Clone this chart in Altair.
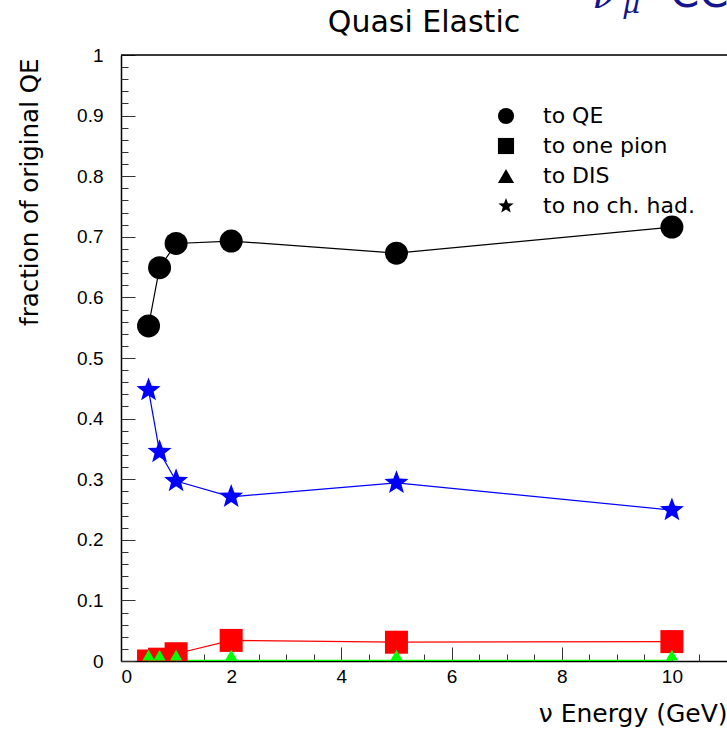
import math
import altair as alt
import pandas as pd

# ---------------- data ----------------
energy = [0.5, 0.7, 1.0, 2.0, 5.0, 10.0]
to_qe = [0.553, 0.649, 0.689, 0.693, 0.673, 0.716]
to_one_pion = [0.0, 0.003, 0.012, 0.034, 0.031, 0.032]
to_dis = [0.001, 0.001, 0.001, 0.001, 0.001, 0.001]
to_no_ch_had = [0.447, 0.345, 0.297, 0.271, 0.294, 0.249]

series_names = ["to QE", "to one pion", "to DIS", "to no ch. had."]
series_values = [to_qe, to_one_pion, to_dis, to_no_ch_had]
series_colors = ["#000000", "#ff0000", "#00ff00", "#0000ff"]

x_major = [0, 2, 4, 6, 8, 10]
x_all_ticks = [i * 0.5 for i in range(23)]
y_major = [round(i * 0.1, 1) for i in range(11)]
y_all_ticks = [round(i * 0.02, 2) for i in range(51)]

title_text = ["Quasi Elastic"]
x_title = "ν Energy (GeV)"
y_title = "fraction of original QE"

# star symbol path
pts = []
for k in range(10):
    ang = -math.pi / 2 + k * math.pi / 5
    r = 1.0 if k % 2 == 0 else 0.42
    pts.append(f"{r * math.cos(ang):.4f},{r * math.sin(ang):.4f}")
star_path = "M" + " L".join(pts) + " Z"
series_shapes = ["circle", "square", "triangle-up", star_path]
series_sizes = [529, 529, 150, 640]
series_yoff = [0, 0, -5.3, 0]

rows = []
for name, vals in zip(series_names, series_values):
    for e, v in zip(energy, vals):
        rows.append({"series": name, "E": e, "frac": v})
df = pd.DataFrame(rows)

W, H = 606, 606

xscale = alt.Scale(domain=[0, 11], nice=False, zero=False)
yscale = alt.Scale(domain=[0, 1], nice=False, zero=False)
sscale = alt.Scale(domain=series_names, range=series_shapes)

x_axis_labels = alt.Axis(
    orient="bottom", values=x_major, format="d", grid=False, ticks=False,
    labelFont="Liberation Sans", labelFontSize=19, labelColor="black", labelPadding=6,
    domainColor="black", domainWidth=1.5,
    title=x_title, titleFont="DejaVu Sans", titleFontSize=25, titleFontWeight="normal",
    titleColor="black", titleAlign="right", titleX=W, titleY=60, titleBaseline="alphabetic",
)
y_axis_labels = alt.Axis(
    orient="left", values=y_major, format="~g", grid=False, ticks=False,
    labelFont="Liberation Sans", labelFontSize=19, labelColor="black", labelPadding=18,
    domainColor="black", domainWidth=1.5,
    title=y_title, titleFont="DejaVu Sans", titleFontSize=24.5, titleFontWeight="normal",
    titleColor="black", titleAngle=270, titleAlign="right", titleBaseline="alphabetic",
    titleX=-84, titleY=3,
)
x_axis_ticks = alt.Axis(
    orient="top", offset=-H, values=x_all_ticks, grid=False, labels=False, domain=False,
    title=None, tickColor="#333333", tickWidth=1,
    tickSize={"condition": {"test": "abs(datum.value/2 - round(datum.value/2)) < 0.001", "value": 14}, "value": 7},
)
y_axis_ticks = alt.Axis(
    orient="right", offset=-W, values=y_all_ticks, grid=False, labels=False, domain=False,
    title=None, tickColor="#333333", tickWidth=1,
    tickSize={"condition": {"test": "abs(datum.value*10 - round(datum.value*10)) < 0.001", "value": 14}, "value": 7},
)

legend = alt.Legend(
    orient="none", legendX=374, legendY=50, title=None, padding=0,
    symbolSize=260, symbolFillColor="black", symbolStrokeColor="black", symbolStrokeWidth=0,
    labelFont="DejaVu Sans", labelFontSize=22, labelColor="black", labelOffset=26,
    rowPadding=8,
)

base = alt.Chart(df)

layers = []
# connecting lines
for name, col in zip(series_names, series_colors):
    first = name == series_names[0]
    layers.append(
        base.mark_line(strokeWidth=1.2, color=col, clip=True).encode(
            x=alt.X("E:Q", scale=xscale, axis=x_axis_labels if first else None),
            y=alt.Y("frac:Q", scale=yscale, axis=y_axis_labels if first else None),
        ).transform_filter(alt.datum.series == name)
    )

# markers
for name, col, size, yoff in zip(series_names, series_colors, series_sizes, series_yoff):
    first = name == series_names[0]
    layers.append(
        base.mark_point(filled=True, opacity=1, size=size, clip=True, yOffset=yoff,
                        strokeWidth=0, color=col).encode(
            x=alt.X("E:Q", scale=xscale, axis=x_axis_ticks if first else None),
            y=alt.Y("frac:Q", scale=yscale, axis=y_axis_ticks if first else None),
            shape=alt.Shape("series:N", scale=sscale, legend=legend),
        ).transform_filter(alt.datum.series == name)
    )

top_rule = alt.Chart(pd.DataFrame({"a": [0]})).mark_rule(color="black", strokeWidth=1.5).encode(
    y=alt.YDatum(1.0, scale=yscale, axis=None)
)
layers.append(top_rule)

title_mark = alt.Chart(pd.DataFrame({"t": title_text})).mark_text(
    font="DejaVu Sans", fontSize=30, color="black", align="center", baseline="alphabetic"
).encode(text="t:N", x=alt.value(W / 2), y=alt.value(-23))
layers.append(title_mark)

navy = "#14148c"
nu_mark = alt.Chart(pd.DataFrame({"t": ["ν"]})).mark_text(
    font="DejaVu Serif", fontStyle="italic", fontSize=40, color=navy,
    align="left", baseline="alphabetic").encode(text="t:N", x=alt.value(471), y=alt.value(-47))
mu_mark = alt.Chart(pd.DataFrame({"t": ["μ"]})).mark_text(
    font="DejaVu Serif", fontStyle="italic", fontSize=28, color=navy,
    align="left", baseline="alphabetic").encode(text="t:N", x=alt.value(501), y=alt.value(-42))
cc_mark = alt.Chart(pd.DataFrame({"t": ["CC"]})).mark_text(
    font="DejaVu Sans", fontSize=42, color=navy,
    align="left", baseline="alphabetic").encode(text="t:N", x=alt.value(549), y=alt.value(-48))
layers += [nu_mark, mu_mark, cc_mark]

chart = alt.layer(*layers).properties(
    width=W, height=H,
    autosize=alt.AutoSizeParams(type="none"),
    padding={"left": 121, "top": 55, "right": 0, "bottom": 70},
).configure_view(stroke=None).configure(background="white")

chart.save("out.html", embed_options={"renderer": "svg", "actions": False})
